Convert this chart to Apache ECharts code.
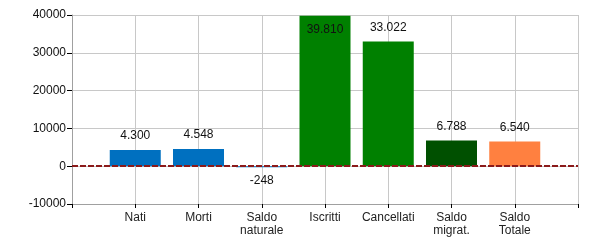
<!DOCTYPE html>
<html>
<head>
<meta charset="utf-8">
<script src="https://cdn.jsdelivr.net/npm/echarts@6/dist/echarts.min.js"></script>
<style>html,body{margin:0;padding:0;background:#fff}#c{width:600px;height:250px}</style>
</head>
<body>
<div id="c"></div>
<script>
const categories = ['', 'Nati', 'Morti', 'Saldo\nnaturale', 'Iscritti', 'Cancellati', 'Saldo\nmigrat.', 'Saldo\nTotale', ''];
const values = [null, 4300, 4548, -248, 39810, 33022, 6788, 6540, null];
const barColors = [null, '#0070c0', '#0070c0', '#0070c0', '#008000', '#008000', '#005000', '#ff8040', null];
const yTicks = { min: -10000, max: 40000, interval: 10000 };

function itFmt(v) {
  const s = String(Math.abs(v)).replace(/\B(?=(\d{3})+(?!\d))/g, '.');
  return (v < 0 ? '-' : '') + s;
}

const font = '"Liberation Sans", Arial, sans-serif';
const data = values.map((v, i) => {
  if (v === null) return null;
  let pos = v < 0 ? 'bottom' : 'top';
  if (v > yTicks.max * 0.95) pos = 'insideTop';
  return {
    value: v,
    itemStyle: { color: barColors[i] },
    label: { position: pos, distance: 8 }
  };
});

const chart = echarts.init(document.getElementById('c'), null, { renderer: 'canvas' });
chart.setOption({
  animation: false,
  grid: { left: 72, right: 22, top: 15, bottom: 46, containLabel: false },
  xAxis: {
    type: 'category',
    data: categories,
    boundaryGap: false,
    axisLine: { onZero: false, lineStyle: { color: '#a0a0a0', width: 1 } },
    axisTick: { show: true, interval: 0, length: 4, lineStyle: { color: '#000' } },
    axisLabel: { interval: 0, color: '#222', fontFamily: font, fontSize: 12, margin: 7, lineHeight: 13 },
    splitLine: { show: true, interval: 0, lineStyle: { color: '#c8c8c8', width: 1 } }
  },
  yAxis: {
    type: 'value',
    min: yTicks.min, max: yTicks.max, interval: yTicks.interval,
    axisLine: { show: true, lineStyle: { color: '#a0a0a0', width: 1 } },
    axisTick: { show: true, length: 5, lineStyle: { color: '#000' } },
    axisLabel: { color: '#111', fontFamily: font, fontSize: 12, margin: 6, formatter: v => String(v) },
    splitLine: { show: true, lineStyle: { color: '#c8c8c8', width: 1 } }
  },
  series: [{
    type: 'bar',
    data: data,
    barWidth: 51,
    label: {
      show: true, color: '#111', fontFamily: font, fontSize: 12,
      formatter: p => itFmt(p.value)
    },
    markLine: {
      silent: true,
      symbol: 'none',
      label: { show: false },
      lineStyle: { color: '#8b1a1a', type: [6, 2], width: 2 },
      data: [{ yAxis: 0 }]
    }
  }]
});
</script>
</body>
</html>
